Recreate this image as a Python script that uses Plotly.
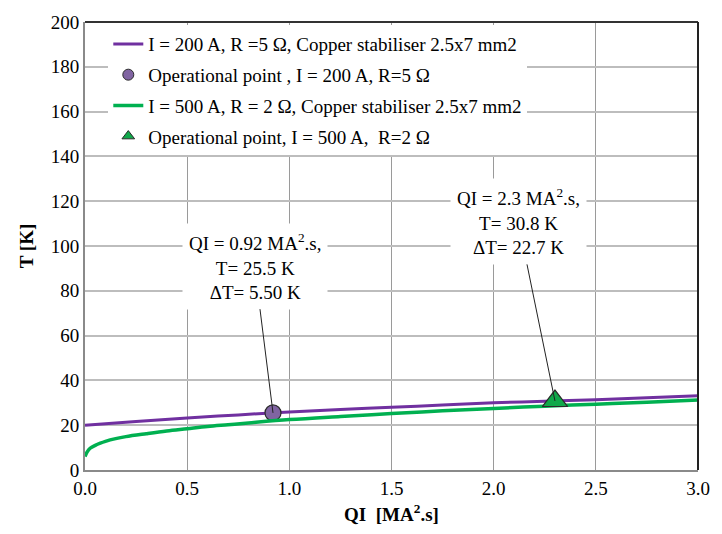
import plotly.graph_objects as go

# Data
qi_purple = [0.0, 0.25, 0.5, 0.75, 1.0, 1.25, 1.5, 1.75, 2.0, 2.25, 2.5, 2.75, 3.0]
t_purple = [20.0, 21.7, 23.2, 24.6, 25.9, 27.0, 28.0, 29.0, 30.0, 30.7, 31.4, 32.2, 33.1]

qi_green = [0.0, 0.01, 0.025, 0.05, 0.075, 0.1, 0.15, 0.2, 0.3, 0.4, 0.5, 0.6, 0.7, 0.8,
            1.0, 1.25, 1.5, 1.75, 2.0, 2.25, 2.5, 2.75, 3.0]
t_green = [6.0, 8.0, 9.7, 11.0, 12.0, 12.8, 14.0, 14.9, 16.2, 17.4, 18.4, 19.4, 20.2, 21.0,
           22.5, 23.9, 25.2, 26.4, 27.5, 28.5, 29.4, 30.3, 31.2]

op1_qi = [0.92]
op1_t = [25.5]
op2_qi = [2.3]
op2_t = [30.8]

names = [
    "I = 200 A, R =5 \u03a9, Copper stabiliser 2.5x7 mm2",
    "Operational point , I = 200 A, R=5 \u03a9",
    "I = 500 A, R = 2 \u03a9, Copper stabiliser 2.5x7 mm2",
    "Operational point, I = 500 A,  R=2 \u03a9",
]

FONT = "Liberation Serif, Times New Roman, serif"
PURPLE = "#7030A0"
GREEN = "#00B050"
CIRCLE_FILL = "#8064A2"
TRI_FILL = "#10A84A"
EDGE = "#2b2b2b"

fig = go.Figure()
fig.add_trace(go.Scatter(x=qi_purple, y=t_purple, mode="lines", name=names[0],
                         line=dict(color=PURPLE, width=3, shape="spline"),
                         legendgroup="a", showlegend=True, legendrank=1))
fig.add_trace(go.Scatter(x=op1_qi, y=op1_t, mode="markers", name=names[1],
                         marker=dict(symbol="circle", size=16, color=CIRCLE_FILL,
                                     line=dict(color=EDGE, width=1.2)),
                         showlegend=False))
fig.add_trace(go.Scatter(x=qi_green, y=t_green, mode="lines", name=names[2],
                         line=dict(color=GREEN, width=3.5, shape="spline"),
                         legendgroup="c", showlegend=True, legendrank=3))
fig.add_trace(go.Scatter(x=op2_qi, y=op2_t, mode="markers", name=names[3],
                         marker=dict(symbol="triangle-up", size=22, color=TRI_FILL,
                                     line=dict(color=EDGE, width=1.2)),
                         showlegend=False))
# legend entries for markers (smaller symbols as in the reference legend)
fig.add_trace(go.Scatter(x=[None], y=[None], mode="markers", name=names[1],
                         marker=dict(symbol="circle", size=11, color=CIRCLE_FILL,
                                     line=dict(color=EDGE, width=1)),
                         legendgroup="b", legendrank=2))
fig.add_trace(go.Scatter(x=[None], y=[None], mode="markers", name=names[3],
                         marker=dict(symbol="triangle-up", size=11, color=TRI_FILL,
                                     line=dict(color=EDGE, width=1)),
                         legendgroup="d", legendrank=4))

ann_font = dict(family=FONT, size=19, color="black")
fig.add_annotation(x=op1_qi[0], y=op1_t[0], ax=0.83, ay=91, axref="x", ayref="y",
                   xref="x", yref="y",
                   text="QI = 0.92 MA<sup>2</sup>.s,<br>T= 25.5 K<br>\u0394T= 5.50 K",
                   showarrow=True, arrowhead=0, arrowwidth=1, arrowcolor="#222",
                   bgcolor="white", borderpad=6, font=ann_font, align="center")
fig.add_annotation(x=op2_qi[0], y=op2_t[0], ax=2.12, ay=111, axref="x", ayref="y",
                   xref="x", yref="y",
                   text="QI = 2.3 MA<sup>2</sup>.s,<br>T= 30.8 K<br>\u0394T= 22.7 K",
                   showarrow=True, arrowhead=0, arrowwidth=1, arrowcolor="#222",
                   bgcolor="white", borderpad=6, font=ann_font, align="center")

# top & right border (darker)
fig.add_shape(type="line", xref="paper", yref="paper", x0=0, x1=1, y0=1, y1=1,
              line=dict(color="#333", width=2))
fig.add_shape(type="line", xref="paper", yref="paper", x0=1, x1=1, y0=0, y1=1,
              line=dict(color="#222", width=2))

fig.update_layout(
    width=722, height=534,
    margin=dict(l=85, r=15, t=17, b=62),
    paper_bgcolor="white", plot_bgcolor="white",
    font=dict(family=FONT, size=19, color="black"),
    showlegend=True,
    legend=dict(x=0.038, y=0.993, xanchor="left", yanchor="top",
                bgcolor="white", borderwidth=0,
                font=dict(family=FONT, size=19, color="black"),
                traceorder="grouped", tracegroupgap=3, itemwidth=30),
    xaxis=dict(range=[0, 3.0], dtick=0.5, tickformat=".1f",
               showgrid=True, gridcolor="#9a9a9a", gridwidth=1,
               showline=True, linecolor="#8a8a8a", linewidth=2,
               ticks="", zeroline=False,
               tickfont=dict(family=FONT, size=19, color="black"),
               title=dict(text="<b>QI  [MA<sup>2</sup>.s]</b>", standoff=10,
                          font=dict(family=FONT, size=19, color="black"))),
    yaxis=dict(range=[0, 200], dtick=20,
               showgrid=True, gridcolor="#bdbdbd", gridwidth=1.5,
               showline=True, linecolor="#8a8a8a", linewidth=2,
               ticks="", zeroline=False,
               tickfont=dict(family=FONT, size=19, color="black"),
               title=dict(text="<b>T [K]</b>", standoff=12,
                          font=dict(family=FONT, size=19, color="black"))),
)

fig.write_html("out.html")
